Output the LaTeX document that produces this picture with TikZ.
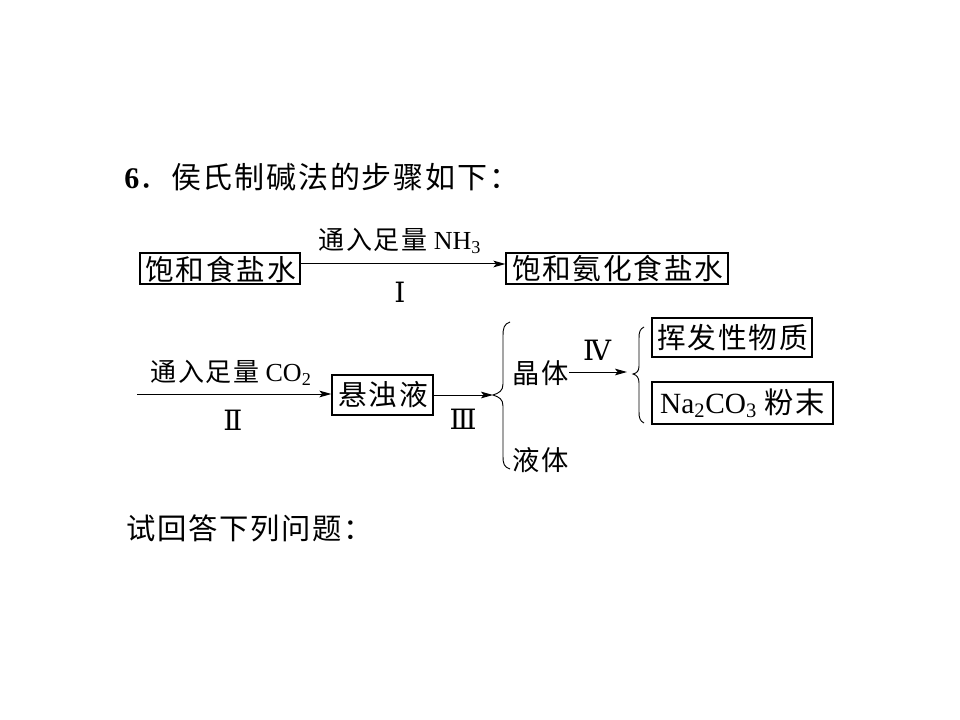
\documentclass[tikz,border=0pt]{standalone}
\usepackage{fontspec}
\setmainfont{Liberation Serif}
\newfontfamily\cjk[LetterSpace=6]{Noto Sans CJK SC}
\newfontfamily\rn{DejaVu Serif}
\usetikzlibrary{arrows.meta}
\begin{document}
\begin{tikzpicture}[x=0.75pt,y=-0.75pt,
  boxnode/.style={draw,line width=0.9pt,inner sep=0pt,font=\cjk\fontsize{21.5pt}{24pt}\selectfont},
  lbl/.style={inner sep=0pt,font=\fontsize{19.5pt}{22pt}\selectfont},
  numlbl/.style={inner sep=0pt,font=\rn\fontsize{21pt}{22pt}\selectfont},
  txt/.style={inner sep=0pt,font=\cjk\fontsize{20.5pt}{22pt}\selectfont},
  conn/.style={line width=0.75pt,-{Stealth[length=9pt,width=5pt,inset=2pt]}},
  bracestyle/.style={line width=0.7pt}]
\useasboundingbox (0,0) rectangle (960,720);
% title
\node[anchor=west,inner sep=0pt,font=\fontsize{22.5pt}{24pt}\selectfont] (title) at (124,177) {\textbf{6}{\cjk ．侯氏制碱法的步骤如下：}};
% row 1
\node[boxnode,minimum width=120pt,minimum height=23.25pt,text depth=0pt] (b1) at (220,268.5) {\hspace{1pt}饱和食盐水};
\node[boxnode,minimum width=166.5pt,minimum height=23.25pt] (b2) at (617,268.5) {\hspace{1pt}饱和氨化食盐水};
\draw[conn] (b1.east |- 0,264) -- (b2.west |- 0,264);
\node[lbl] (l1) at (400,241) {{\cjk 通入足量} NH\textsubscript{3}};
\node[numlbl] (n1) at (400,292) {Ⅰ};
% row 2
\coordinate (s2) at (137,394);
\node[boxnode,minimum width=75.75pt,minimum height=30pt] (b3) at (382.5,395) {\hspace{1pt}悬浊液};
\draw[conn] (s2) -- (b3.west |- s2);
\node[lbl] (l2) at (231,373) {{\cjk 通入足量} CO\textsubscript{2}};
\node[numlbl] (n2) at (233,420) {Ⅱ};
% brace 1
\coordinate (t1) at (493,395);
\draw[conn] (b3.east |- t1) -- (t1);
\node[numlbl] (n3) at (463,419) {Ⅲ};
\draw[bracestyle] (510,322) .. controls (504,324) and (503,328) .. (503,336)
  -- (503,384) .. controls (503,391) and (499,393) .. (t1)
  .. controls (499,397) and (503,399) .. (503,406)
  -- (503,456) .. controls (503,464) and (504,467) .. (510,469);
\node[txt] (c1) at (541,373) {晶体};
\node[txt] (c2) at (541,460) {液体};
% brace 2
\coordinate (t2) at (633,374);
\draw[conn] (c1.east |- 0,372) -- (627,372);
\node[numlbl] (n4) at (597,350) {Ⅳ};
\draw[bracestyle] (644,327) .. controls (640,329) and (639,332) .. (639,338)
  -- (639,366) .. controls (639,371) and (637,373) .. (t2)
  .. controls (637,375) and (639,378) .. (639,383)
  -- (639,412) .. controls (639,418) and (640,421) .. (644,423);
\node[boxnode,minimum width=120pt,minimum height=29.25pt] (b4) at (732,337.5) {\hspace{1pt}挥发性物质};
\node[boxnode,minimum width=135.75pt,minimum height=31.5pt,font=\fontsize{22pt}{24pt}\selectfont] (b5) at (742.5,403) {Na\textsubscript{2}CO\textsubscript{3} {\cjk 粉末}};
% question
\node[anchor=west,txt,font=\cjk\fontsize{22pt}{24pt}\selectfont] (q) at (126,528) {试回答下列问题：};
\end{tikzpicture}
\end{document}
